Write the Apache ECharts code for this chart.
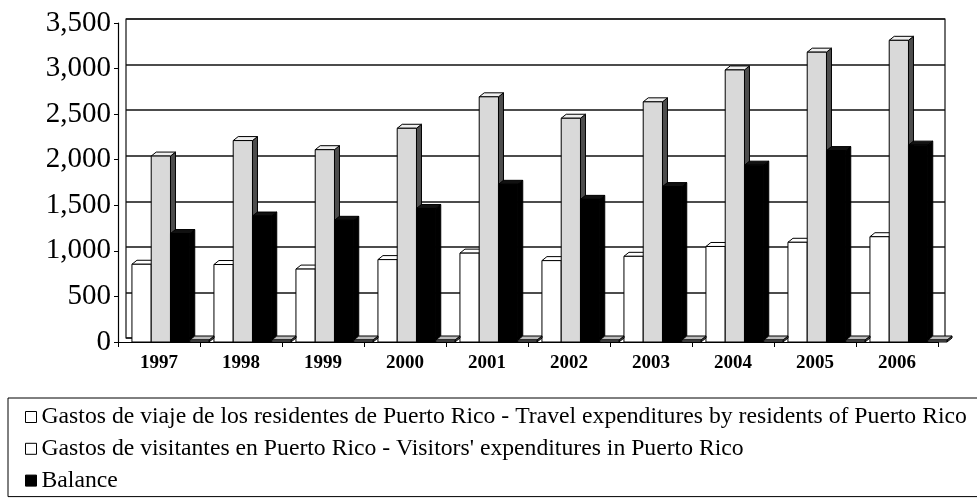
<!DOCTYPE html>
<html>
<head>
<meta charset="utf-8">
<script src="https://cdn.jsdelivr.net/npm/echarts@6/dist/echarts.min.js"></script>
<style>
  html, body { margin: 0; padding: 0; background: #fff; }
  #chart { width: 977px; height: 500px; }
</style>
</head>
<body>
<div id="chart"></div>
<script>
// data (millions of dollars)
var years = ['1997', '1998', '1999', '2000', '2001', '2002', '2003', '2004', '2005', '2006'];
var residents = [853, 850, 800, 904, 975, 893, 940, 1048, 1094, 1155];
var visitors = [2040, 2210, 2110, 2345, 2690, 2455, 2635, 2985, 3180, 3310];
var balance = [1190, 1382, 1335, 1465, 1730, 1565, 1705, 1940, 2100, 2160];
var floorSlab = [0, 0, 0, 0, 0, 0, 0, 0, 0, 0];
var yTicks = [0, 500, 1000, 1500, 2000, 2500, 3000, 3500];

var names = [
    'Gastos de viaje de los residentes de Puerto Rico - Travel expenditures by residents of Puerto Rico',
    'Gastos de visitantes en Puerto Rico - Visitors\' expenditures in Puerto Rico',
    'Balance'
];

var SERIF = '"Liberation Serif", "Times New Roman", serif';

function toPairs(arr) {
    return arr.map(function (v, i) { return [i, v]; });
}

// 3d-ish column: front face, top face, right side face
function columnRender(slot, front, topc, side) {
    return function (params, api) {
        var idx = api.value(0);
        var top = api.coord([idx, api.value(1)]);
        var base = api.coord([idx, 0]);
        var W = api.size([1, 0])[0];
        var pitch = W * 0.235;
        var x0 = top[0] - W * 0.33 + slot * pitch;
        var x1 = x0 + pitch;
        var yv = top[1], y0 = base[1];
        if (y0 - yv < 2) yv = y0 - 2;
        var dx = 5, dy = 4;
        var stroke = { stroke: '#000', lineWidth: 1 };
        return {
            type: 'group',
            children: [
                {
                    type: 'polygon',
                    shape: { points: [[x1, yv], [x1 + dx, yv - dy], [x1 + dx, y0 - dy], [x1, y0]] },
                    style: Object.assign({ fill: side }, stroke)
                },
                {
                    type: 'polygon',
                    shape: { points: [[x0, yv], [x0 + dx, yv - dy], [x1 + dx, yv - dy], [x1, yv]] },
                    style: Object.assign({ fill: topc }, stroke)
                },
                {
                    type: 'rect',
                    shape: { x: x0, y: yv, width: x1 - x0, height: y0 - yv },
                    style: Object.assign({ fill: front }, stroke)
                }
            ]
        };
    };
}

var chart = echarts.init(document.getElementById('chart'));

chart.setOption({
    animation: false,
    textStyle: { fontFamily: SERIF },
    grid: [
        // back wall
        { left: 126, right: 32, top: 19, bottom: 162, show: true, borderColor: '#111', borderWidth: 1.2 },
        // front
        { left: 118, right: 39, top: 23, bottom: 158 }
    ],
    xAxis: [
        { gridIndex: 0, type: 'category', data: years, show: false },
        {
            gridIndex: 1,
            type: 'category',
            data: years,
            axisLine: { lineStyle: { color: '#000', width: 1.2 } },
            axisTick: { show: true, length: 5, lineStyle: { color: '#000' } },
            axisLabel: { color: '#000', fontFamily: SERIF, fontWeight: 'bold', fontSize: 19, margin: 12 },
            z: 10
        }
    ],
    yAxis: [
        {
            gridIndex: 0,
            type: 'value',
            min: 0, max: 3500, interval: 500,
            axisLine: { show: false },
            axisTick: { show: false },
            axisLabel: { show: false },
            splitLine: { show: true, lineStyle: { color: '#111', width: 1.5 } }
        },
        {
            gridIndex: 1,
            type: 'value',
            min: yTicks[0], max: yTicks[yTicks.length - 1], interval: 500,
            axisLine: { show: true, lineStyle: { color: '#000', width: 1.2 } },
            axisTick: { show: true, length: 4, lineStyle: { color: '#000' } },
            splitLine: { show: false },
            axisLabel: {
                color: '#000', fontFamily: SERIF, fontSize: 29, margin: 7,
                formatter: function (v) { return v.toLocaleString('en-US'); }
            },
            z: 10
        }
    ],
    legend: {
        orient: 'vertical',
        left: 8,
        top: 398,
        padding: [7, 20, 4, 17],
        borderColor: '#000',
        borderWidth: 1,
        itemWidth: 11,
        itemHeight: 11,
        itemGap: 7.8,
        icon: 'rect',
        textStyle: { fontFamily: SERIF, fontSize: 23.7, color: '#000' },
        data: [
            { name: names[0], itemStyle: { color: '#fff', borderColor: '#000', borderWidth: 1 } },
            { name: names[1], itemStyle: { color: '#fff', borderColor: '#000', borderWidth: 1 } },
            { name: names[2], itemStyle: { color: '#000', borderColor: '#000', borderWidth: 1 } }
        ]
    },
    series: [
        {
            name: names[0], type: 'custom', xAxisIndex: 1, yAxisIndex: 1,
            itemStyle: { color: '#fff', borderColor: '#000' },
            renderItem: columnRender(0, '#fff', '#fff', '#fff'),
            encode: { x: 0, y: 1 },
            data: toPairs(residents), z: 3
        },
        {
            name: names[1], type: 'custom', xAxisIndex: 1, yAxisIndex: 1,
            itemStyle: { color: '#d6d6d6', borderColor: '#000' },
            renderItem: columnRender(1, '#d9d9d9', '#efefef', '#4d4d4d'),
            encode: { x: 0, y: 1 },
            data: toPairs(visitors), z: 4
        },
        {
            name: names[2], type: 'custom', xAxisIndex: 1, yAxisIndex: 1,
            itemStyle: { color: '#000' },
            renderItem: columnRender(2, '#000', '#111', '#000'),
            encode: { x: 0, y: 1 },
            data: toPairs(balance), z: 5
        },
        {
            name: 'floor', type: 'custom', xAxisIndex: 1, yAxisIndex: 1,
            itemStyle: { color: '#888' },
            renderItem: columnRender(3, '#777', '#bbb', '#555'),
            encode: { x: 0, y: 1 },
            data: toPairs(floorSlab), z: 6
        }
    ]
});
</script>
</body>
</html>
